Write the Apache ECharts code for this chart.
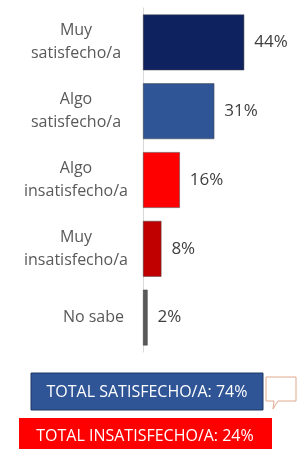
<!DOCTYPE html>
<html><head><meta charset="utf-8">
<script src="https://cdn.jsdelivr.net/npm/echarts@6/dist/echarts.min.js"></script>
<style>html,body{margin:0;padding:0;background:#fff}#c{width:299px;height:449px}</style>
</head><body><div id="c"></div>
<script>
const categories = ["Muy\nsatisfecho/a", "Algo\nsatisfecho/a", "Algo\ninsatisfecho/a", "Muy\ninsatisfecho/a", "No sabe"];
const values = [44, 31, 16, 8, 2];
const barColors = ["#0e2260", "#2f5597", "#ff0000", "#c00000", "#595959"];
const totalSatisfied = "TOTAL SATISFECHO/A: 74%";
const totalUnsatisfied = "TOTAL INSATISFECHO/A: 24%";

const chart = echarts.init(document.getElementById('c'));
chart.setOption({
  animation: false,
  grid: {left: 143, top: 8, width: 115, height: 344, outerBoundsMode: 'none'},
  xAxis: {type: 'value', min: 0, max: 50, show: false},
  yAxis: {
    type: 'category', inverse: true, data: categories,
    axisLine: {show: true, lineStyle: {color: '#d9d9d9', width: 1}},
    axisTick: {show: false},
    axisLabel: {
      color: '#595959', fontSize: 16, fontFamily: 'Open Sans', align: 'center', margin: 67, lineHeight: 23,
      formatter: v => v.indexOf('\n') < 0 ? '{r|' + v + '}' : v,
      rich: {r: {width: 96, align: 'right', color: '#595959', fontSize: 16, fontFamily: 'Open Sans'}}
    }
  },
  series: [{
    type: 'bar', barCategoryGap: '19%',
    data: values.map((v, i) => ({value: v, itemStyle: {color: barColors[i], borderColor: '#404040', borderWidth: 0.5}})),
    label: {show: true, position: 'right', distance: 10, formatter: '{c}%', color: '#404040', fontSize: 17, fontFamily: 'Open Sans'}
  }],
  graphic: [
    {type: 'rect', shape: {x: 31, y: 373, width: 232, height: 37}, style: {fill: '#2f5597', stroke: '#1f3864', lineWidth: 1}},
    {type: 'text', x: 147, y: 392, style: {text: totalSatisfied, fill: '#ffffff', font: '16px "Open Sans"', align: 'center', verticalAlign: 'middle'}},
    {type: 'polygon', shape: {points: [[266, 377], [296, 377], [296, 401], [278, 401], [273, 409], [274, 401], [266, 401]]}, style: {fill: '#ffffff', stroke: '#e0a890', lineWidth: 1}},
    {type: 'rect', shape: {x: 19, y: 418, width: 253, height: 34}, style: {fill: '#ff0000'}},
    {type: 'text', x: 145, y: 436, style: {text: totalUnsatisfied, fill: '#ffffff', font: '16px "Open Sans"', align: 'center', verticalAlign: 'middle'}}
  ]
});
</script></body></html>
